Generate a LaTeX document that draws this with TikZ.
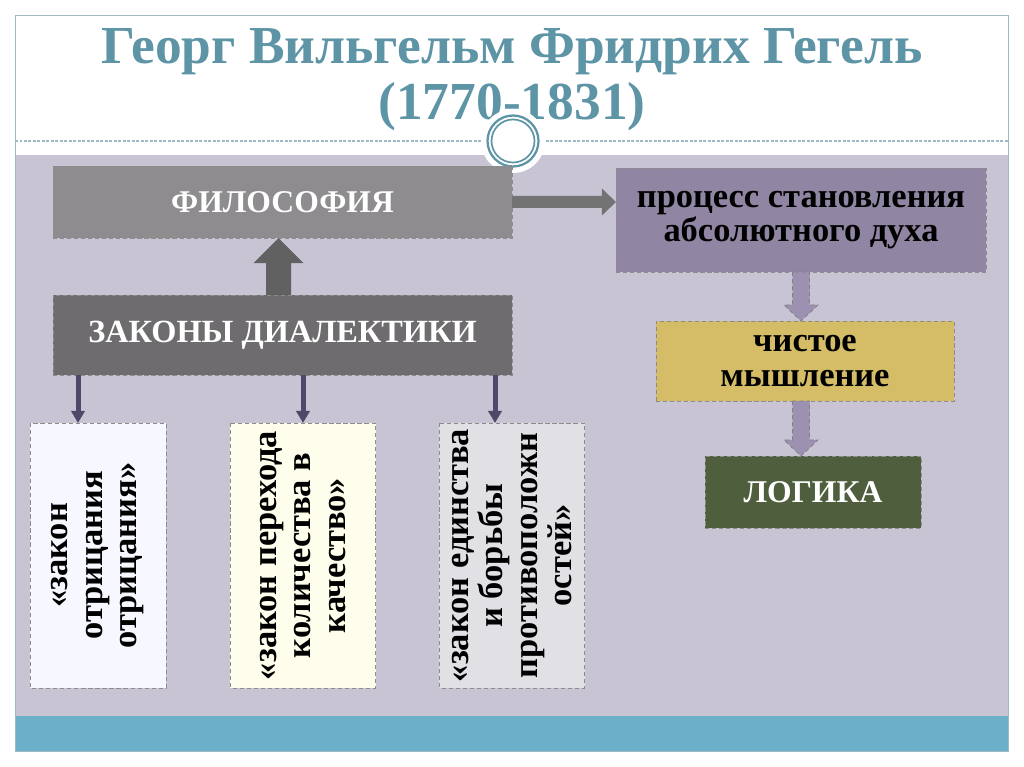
\documentclass[tikz,border=0pt]{standalone}
\usepackage{fontspec}
\setmainfont{Liberation Serif}
\usepackage{tikz}
\usetikzlibrary{calc,arrows.meta}
\definecolor{hgteal}{RGB}{93,148,166}
\definecolor{hgframe}{RGB}{160,185,195}
\definecolor{hgbody}{RGB}{201,196,212}
\definecolor{hgband}{RGB}{107,175,200}
\definecolor{hgphil}{RGB}{142,140,143}
\definecolor{hglaws}{RGB}{110,108,111}
\definecolor{hgproc}{RGB}{144,133,162}
\definecolor{hgpure}{RGB}{212,189,102}
\definecolor{hglogic}{RGB}{79,94,61}
\definecolor{hgthin}{RGB}{80,72,105}
\definecolor{hgpurp}{RGB}{157,145,178}

\begin{document}
\begin{tikzpicture}[x=0.025cm, y=-0.025cm,
    box/.style={draw=black!45, densely dashed, line width=0.5pt, inner sep=0pt, outer sep=0pt,
                font=\fontsize{24.5}{24.5}\selectfont\bfseries, align=center},
    capbox/.style={box, text=white, font=\fontsize{22.5}{24}\selectfont\bfseries},
    lawbox/.style={box, rotate=90, minimum width=6.625cm},
    title/.style={text=hgteal, font=\fontsize{38}{40}\selectfont\bfseries, anchor=base},
    bigarr/.style={fill=black!62},
    purparr/.style={fill=hgpurp, draw=black!50, densely dashed, line width=0.5pt},
    thinarr/.style={-{Triangle[width=0.33cm, length=0.3cm]}, line width=0.125cm, hgthin}
  ]
    % slide
    \fill[white] (0,0) rectangle (1024,767);
    \fill[hgbody] (15,155) rectangle (1008,716);
    \fill[hgband] (15,716) rectangle (1008,751);
    \draw[hgframe, line width=0.6pt] (15,15) rectangle (1008,751);
    \draw[hgframe, line width=0.8pt, dash pattern=on 2pt off 1.2pt] (15,141) -- (1008,141);
    % title
    \node[title] (name) at (512,64) {Георг Вильгельм Фридрих Гегель};
    \node[title] (years) at (512,120) {(1770-1831)};
    % ring
    \fill[white] (513,141) circle (32);
    \draw[hgteal, line width=1.6pt] (513,141) circle (25.5);
    \draw[hgteal, line width=1.2pt] (513,141) circle (21.5);
    % philosophy and laws
    \node[capbox, fill=hgphil, minimum width=11.475cm, minimum height=1.8cm] (phil) at (282.5,202) {ФИЛОСОФИЯ};
    \node[capbox, fill=hglaws, minimum width=11.475cm, minimum height=2cm,
          font=\fontsize{23}{24}\selectfont\bfseries] (laws) at (282.5,335) {ЗАКОНЫ ДИАЛЕКТИКИ};
    % right column
    \node[box, fill=hgproc, minimum width=9.25cm, minimum height=2.6cm] (proc) at (801,220) {процесс становления\\абсолютного духа};
    \node[box, fill=hgpure, minimum width=7.45cm, minimum height=2cm] (pure) at (805,361) {чистое\\мышление};
    \node[capbox, fill=hglogic, minimum width=5.4cm, minimum height=1.8cm] (logic) at (813,492) {ЛОГИКА};
    % three laws
    \node[lawbox, fill=white!97!blue, minimum height=3.4cm] (law1) at (98,555.5) {«закон\\отрицания\\отрицания»};
    \node[lawbox, fill=yellow!7!white, minimum height=3.625cm] (law2) at (303,555.5) {«закон перехода\\количества в\\качество»};
    \node[lawbox, fill=black!10!hgbody!40!white, minimum height=3.625cm] (law3) at (512,555.5) {«закон единства\\и борьбы\\противоположн\\остей»};
    % block arrows
    \fill[bigarr] ($(laws.north)+(-16.5,0)$) -- ($(phil.south)+(-16.5,25)$) -- ($(phil.south)+(-29,25)$)
      -- ($(phil.south)+(-4,0)$) -- ($(phil.south)+(21,25)$) -- ($(phil.south)+(8.5,25)$)
      -- ($(laws.north)+(8.5,0)$) -- cycle;
    \fill[black!55] ($(phil.east)+(0,-6)$) -- ($(proc.west |- phil.east)+(-14,-6)$) -- ($(proc.west |- phil.east)+(-14,-13.5)$)
      -- (proc.west |- phil.east) -- ($(proc.west |- phil.east)+(-14,13.5)$) -- ($(proc.west |- phil.east)+(-14,6)$)
      -- ($(phil.east)+(0,6)$) -- cycle;
    \draw[purparr] ($(proc.south)+(-8.5,0)$) -- ($(pure.north -| proc.south)+(-8.5,-16)$) -- ($(pure.north -| proc.south)+(-17,-16)$)
      -- (pure.north -| proc.south) -- ($(pure.north -| proc.south)+(17,-16)$) -- ($(pure.north -| proc.south)+(8.5,-16)$)
      -- ($(proc.south)+(8.5,0)$) -- cycle;
    \draw[purparr] ($(pure.south -| proc.south)+(-8.5,0)$) -- ($(logic.north -| proc.south)+(-8.5,-16)$) -- ($(logic.north -| proc.south)+(-17,-16)$)
      -- (logic.north -| proc.south) -- ($(logic.north -| proc.south)+(17,-16)$) -- ($(logic.north -| proc.south)+(8.5,-16)$)
      -- ($(pure.south -| proc.south)+(8.5,0)$) -- cycle;
    % thin arrows
    \draw[thinarr] ($(law1.east |- laws.south)+(-20,0)$) -- ($(law1.east)+(-20,0)$);
    \draw[thinarr] (law2.east |- laws.south) -- (law2.east);
    \draw[thinarr] ($(law3.east |- laws.south)+(-17,0)$) -- ($(law3.east)+(-17,0)$);
  \end{tikzpicture}
\end{document}
